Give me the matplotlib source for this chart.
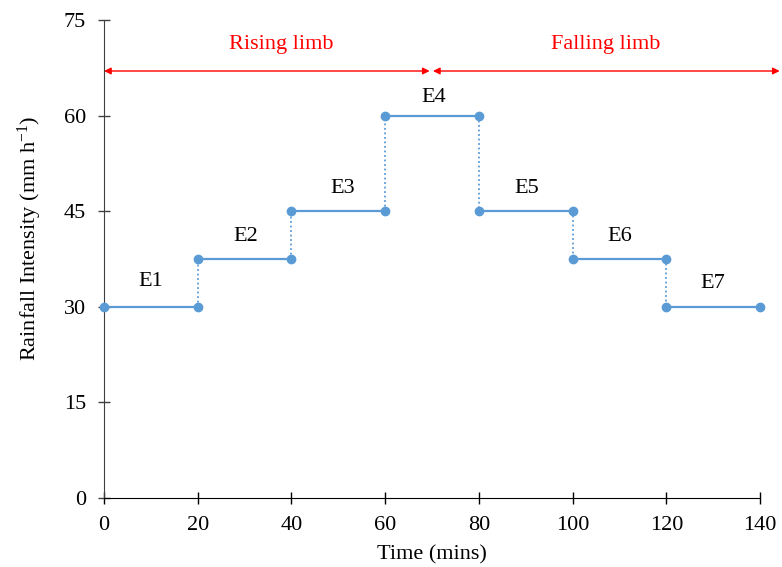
import matplotlib
matplotlib.use("Agg")
import matplotlib.pyplot as plt

plt.rcParams['font.family'] = ['Liberation Serif', 'DejaVu Serif']
plt.rcParams['mathtext.fontset'] = 'custom'
plt.rcParams['mathtext.rm'] = 'Liberation Serif'
plt.rcParams['mathtext.it'] = 'Liberation Serif:italic'

# Data
seg_start = [0, 20, 40, 60, 80, 100, 120]
seg_end = [20, 40, 60, 80, 100, 120, 140]
intensity = [30, 37.5, 45, 60, 45, 37.5, 30]
event_labels = ['E1', 'E2', 'E3', 'E4', 'E5', 'E6', 'E7']
xticks = [0, 20, 40, 60, 80, 100, 120, 140]
yticks = [0, 15, 30, 45, 60, 75]

blue = '#5B9BD5'
fig = plt.figure(figsize=(7.82, 5.67), dpi=100)
ax = fig.add_axes([0.133, 0.1217, 0.8389, 0.843])

for i in range(len(seg_start)):
    ax.plot([seg_start[i], seg_end[i]], [intensity[i], intensity[i]],
            color=blue, lw=1.6, marker='o', ms=6, zorder=3, clip_on=False)
    if i > 0:
        ax.plot([seg_start[i], seg_start[i]], [intensity[i-1], intensity[i]],
                color=blue, lw=1.3, ls=(0, (1, 1.5)), zorder=2)

label_x = [10, 30.3, 51, 70.4, 90.3, 110, 130]
label_y = [33.9, 41.1, 48.6, 62.9, 48.6, 41.1, 33.6]
for lx, ly, t in zip(label_x, label_y, event_labels):
    ax.text(lx, ly, t, ha='center', va='center', fontsize=16)

# Limb arrows
ax.annotate('', xy=(0, 67), xytext=(69.5, 67),
            arrowprops=dict(arrowstyle='<|-|>', color='red', lw=1, mutation_scale=10,
                            shrinkA=0, shrinkB=0), annotation_clip=False)
ax.annotate('', xy=(70.2, 67), xytext=(144.2, 67),
            arrowprops=dict(arrowstyle='<|-|>', color='red', lw=1, mutation_scale=10,
                            shrinkA=0, shrinkB=0), annotation_clip=False)
ax.text(37.8, 71.2, 'Rising limb', color='red', ha='center', va='center', fontsize=16)
ax.text(107, 71.2, 'Falling limb', color='red', ha='center', va='center', fontsize=16)

ax.set_xlim(0, 140)
ax.set_ylim(0, 75)
ax.set_xticks(xticks)
ax.set_yticks(yticks)
ax.spines['top'].set_visible(False)
ax.spines['right'].set_visible(False)
ax.spines['left'].set_color('#404040')
ax.spines['bottom'].set_color('black')
ax.tick_params(axis='both', direction='inout', length=8, width=1, labelsize=16)
ax.tick_params(axis='x', pad=9)
ax.tick_params(axis='y', colors='#404040', labelcolor='black', pad=9)
ax.set_xlabel('Time (mins)', fontsize=16, labelpad=7)
ax.set_ylabel(r'Rainfall Intensity (mm h$^{\mathrm{-1}}$)', fontsize=16, labelpad=14)
ax.yaxis.label.set_y(0.544)

fig.savefig('out.png', dpi=100)
